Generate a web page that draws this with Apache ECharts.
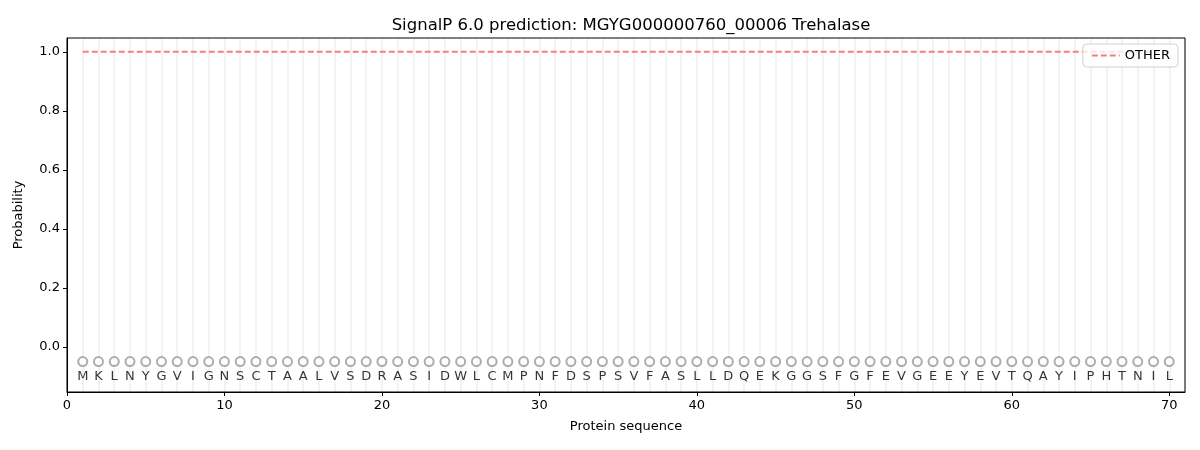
<!DOCTYPE html>
<html><head><meta charset="utf-8">
<script src="https://cdn.jsdelivr.net/npm/echarts@6/dist/echarts.min.js"></script>
<style>html,body{margin:0;padding:0;background:#fff}#c{width:1200px;height:450px}</style>
</head><body><div id="c"></div>
<script>
const sequence = "MKLNYGVIGNSCTAALVSDRASIDWLCMPNFDSPSVFASLLDQEKGGSFGFEVGEEYEVTQAYIPHTNIL".split("");
const positions = sequence.map((_, i) => i + 1);
const otherProb = positions.map(() => 1.0);
const markerLevel = -0.05;
const letterLevel = -0.1;
const yTicks = [0, 0.2, 0.4, 0.6, 0.8, 1.0];
const xTicks = [0, 10, 20, 30, 40, 50, 60, 70];

const chart = echarts.init(document.getElementById('c'));
const font = 'DejaVu Sans';
chart.setOption({
  animation: false,
  textStyle: { fontFamily: font },
  title: { text: 'SignalP 6.0 prediction: MGYG000000760_00006 Trehalase', left: 626, textAlign: 'center', top: 12,
    textStyle: { fontFamily: font, fontSize: 16.5, fontWeight: 'normal', color: '#000' } },
  grid: { left: 67, right: 15, top: 38, bottom: 58, show: true, borderColor: '#000', borderWidth: 1, z: 10 },
  legend: { right: 22, top: 44, data: ['OTHER'], orient: 'vertical', z: 20,
    backgroundColor: 'rgba(255,255,255,0.8)',
    borderColor: '#d0d0d0', borderWidth: 1, borderRadius: 4, padding: [5, 8, 5, 8],
    itemWidth: 28, itemHeight: 10, itemStyle: { opacity: 0 },
    textStyle: { fontFamily: font, fontSize: 13, color: '#000' } },
  xAxis: [{
    type: 'value', min: 0, max: 71,
    name: 'Protein sequence', nameLocation: 'middle', nameGap: 28,
    nameTextStyle: { fontFamily: font, fontSize: 13, color: '#000' },
    axisLine: { show: true, onZero: false, lineStyle: { color: '#000' } },
    axisTick: { show: true, length: 4, lineStyle: { color: '#000' }, customValues: xTicks },
    axisLabel: { color: '#000', fontSize: 13, fontFamily: font, margin: 7, customValues: xTicks },
    splitLine: { show: false }
  }, {
    type: 'value', min: 0, max: 71, interval: 1, position: 'bottom',
    axisLine: { show: false, onZero: false }, axisTick: { show: false }, axisLabel: { show: false },
    splitLine: { show: true, lineStyle: { color: '#efefef', width: 1.5 } }
  }],
  yAxis: {
    type: 'value', min: -0.153, max: 1.047,
    name: 'Probability', nameLocation: 'middle', nameGap: 42,
    nameTextStyle: { fontFamily: font, fontSize: 13, color: '#000' },
    axisLine: { show: true, onZero: false, lineStyle: { color: '#000' } },
    axisTick: { show: true, length: 4, lineStyle: { color: '#000' }, customValues: yTicks },
    axisLabel: { color: '#000', fontSize: 13, fontFamily: font, margin: 7, customValues: yTicks,
      formatter: v => v.toFixed(1) },
    splitLine: { show: false }
  },
  series: [{
    name: 'OTHER', type: 'line', xAxisIndex: 0,
    data: positions.map((p, i) => [p, otherProb[i]]),
    showSymbol: false, symbol: 'none',
    lineStyle: { color: '#f27f7f', width: 2, type: [6, 3] },
    itemStyle: { color: '#f27f7f' }
  }, {
    name: 'markers', type: 'scatter', xAxisIndex: 0,
    data: positions.map(p => [p, markerLevel]),
    symbol: 'emptyCircle', symbolSize: 9,
    itemStyle: { color: '#999', borderColor: '#8a8a8a', borderWidth: 1 }
  }, {
    name: 'letters', type: 'scatter', xAxisIndex: 0,
    data: positions.map((p, i) => [p, letterLevel, sequence[i]]),
    symbolSize: 0,
    label: { show: true, position: 'inside', formatter: d => d.data[2],
      color: '#000', fontSize: 13, fontFamily: font }
  }]
});
</script></body></html>
